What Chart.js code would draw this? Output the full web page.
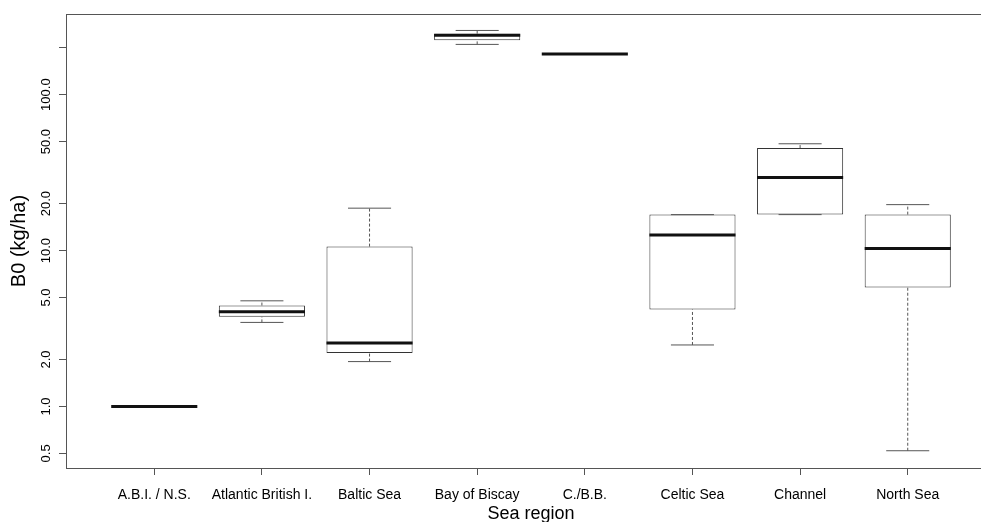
<!DOCTYPE html>
<html>
<head>
<meta charset="utf-8">
<script src="https://cdn.jsdelivr.net/npm/chart.js@4.4.1/dist/chart.umd.min.js"></script>
<style>
  html, body { margin: 0; padding: 0; background: #fff; overflow: hidden; }
  #wrap { width: 1000px; height: 522px; }
</style>
</head>
<body>
<div id="wrap"><canvas id="c" width="1000" height="522"></canvas></div>
<script>
// B0 (kg/ha) by sea region: five-number summaries per region
const regions      = ['A.B.I. / N.S.', 'Atlantic British I.', 'Baltic Sea', 'Bay of Biscay', 'C./B.B.', 'Celtic Sea', 'Channel', 'North Sea'];
const whiskerLow   = [1.0, 3.46, 1.94, 210, 182, 2.48, 17.0, 0.52];
const quartileLow  = [1.0, 3.76, 2.20, 223, 182, 4.19, 17.0, 5.80];
const medians      = [1.0, 4.05, 2.55, 240, 182, 12.6, 29.4, 10.3];
const quartileHigh = [1.0, 4.44, 10.6, 246, 182, 17.0, 45.4, 17.0];
const whiskerHigh  = [1.0, 4.76, 18.7, 258, 182, 17.0, 48.4, 19.7];
const yTicks       = [0.5, 1, 2, 5, 10, 20, 50, 100, 200];

const FONT = "'Liberation Sans', Arial, Helvetica, sans-serif";
const BOX_HALF = 0.4;     // half box width, in category units
const STAPLE_HALF = 0.2;  // half whisker-cap width

// Segments separated by null points so one dataset draws many pieces
function segments(list) {
  const out = [];
  list.forEach(([a, b]) => { out.push(a, b, { x: b.x, y: null }); });
  return out;
}

const boxData = regions.map((r, i) => ({ x: i + 1, y: [quartileLow[i], quartileHigh[i]] }));

const medianData = segments(regions.map((r, i) => [
  { x: i + 1 - BOX_HALF, y: medians[i] },
  { x: i + 1 + BOX_HALF, y: medians[i] }
]));

const stemPairs = [];
const staplePairs = [];
regions.forEach((r, i) => {
  const x = i + 1;
  if (whiskerHigh[i] > quartileHigh[i]) stemPairs.push([{ x, y: quartileHigh[i] }, { x, y: whiskerHigh[i] }]);
  if (whiskerLow[i] < quartileLow[i]) stemPairs.push([{ x, y: whiskerLow[i] }, { x, y: quartileLow[i] }]);
  if (quartileHigh[i] > quartileLow[i]) {
    staplePairs.push([{ x: x - STAPLE_HALF, y: whiskerHigh[i] }, { x: x + STAPLE_HALF, y: whiskerHigh[i] }]);
    staplePairs.push([{ x: x - STAPLE_HALF, y: whiskerLow[i] }, { x: x + STAPLE_HALF, y: whiskerLow[i] }]);
  }
});

// Frame around the plotting region
const framePlugin = {
  id: 'frame',
  afterDatasetsDraw(chart) {
    const { ctx, chartArea: a } = chart;
    ctx.save();
    ctx.strokeStyle = '#555';
    ctx.lineWidth = 1;
    ctx.strokeRect(Math.round(a.left) + 0.5, Math.round(a.top) + 0.5,
                   Math.round(a.right - a.left), Math.round(a.bottom - a.top));
    ctx.restore();
  }
};

new Chart(document.getElementById('c'), {
  type: 'bar',
  data: {
    datasets: [
      {
        type: 'line', label: 'median', data: medianData, order: 0,
        borderColor: '#111', borderWidth: 3, borderCapStyle: 'butt',
        pointRadius: 0, spanGaps: false, parsing: false
      },
      {
        type: 'line', label: 'staple', data: segments(staplePairs), order: 1,
        borderColor: '#555', borderWidth: 1, pointRadius: 0, spanGaps: false
      },
      {
        type: 'line', label: 'whisker', data: segments(stemPairs), order: 2,
        borderColor: '#555', borderWidth: 1, borderDash: [3, 2], pointRadius: 0, spanGaps: false
      },
      {
        type: 'bar', label: 'box', data: boxData, order: 3,
        backgroundColor: '#fff', borderColor: '#333', borderWidth: 1, borderSkipped: false,
        barPercentage: 2 * BOX_HALF, categoryPercentage: 1
      }
    ]
  },
  options: {
    responsive: false,
    devicePixelRatio: 1,
    animation: false,
    layout: { padding: { top: 14, right: 4, left: 0, bottom: 0 } },
    plugins: { legend: { display: false }, tooltip: { enabled: false } },
    scales: {
      x: {
        type: 'linear', min: 0.18, max: 8.82, offset: false,
        afterBuildTicks: s => { s.ticks = regions.map((r, i) => ({ value: i + 1 })); },
        afterFit: s => { s.height = 54; },
        ticks: {
          autoSkip: false, maxRotation: 0, minRotation: 0, padding: 12,
          color: '#000', font: { family: FONT, size: 14 },
          callback: v => regions[v - 1] ?? ''
        },
        grid: { display: true, offset: false, drawOnChartArea: false, drawTicks: true, tickLength: 7, color: '#555' },
        border: { display: false },
        title: {
          display: true, text: 'Sea region', color: '#000',
          font: { family: FONT, size: 18 }, padding: { top: 0, bottom: -3 }
        }
      },
      y: {
        type: 'logarithmic', min: 0.403, max: 329,
        afterBuildTicks: s => { s.ticks = yTicks.map(v => ({ value: v })); },
        afterFit: s => { s.width = 66; },
        ticks: {
          autoSkip: false, minRotation: 90, maxRotation: 90, crossAlign: 'center', padding: -4,
          color: '#000', font: { family: FONT, size: 13 },
          callback: v => (v === 200 ? '' : Number(v).toFixed(1))
        },
        grid: { display: true, offset: false, drawOnChartArea: false, drawTicks: true, tickLength: 7, color: '#555' },
        border: { display: false },
        title: {
          display: true, text: 'B0 (kg/ha)', color: '#000',
          font: { family: FONT, size: 20 }, padding: { top: 7, bottom: 0 }
        }
      }
    }
  },
  plugins: [framePlugin]
});
</script>
</body>
</html>
